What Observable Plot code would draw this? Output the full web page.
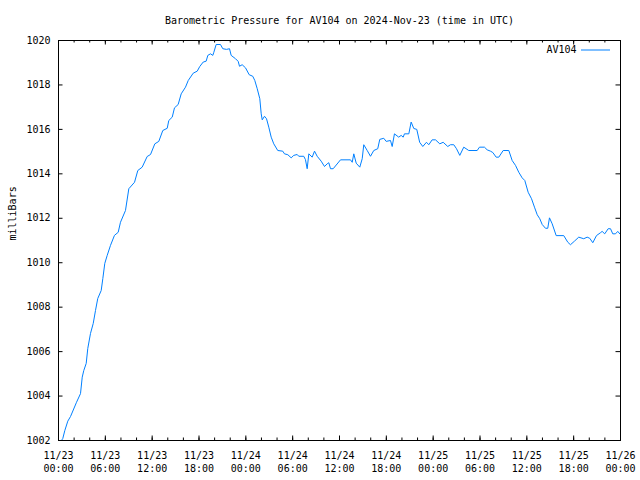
<!DOCTYPE html>
<html>
<head>
<meta charset="utf-8">
<script src="https://cdn.jsdelivr.net/npm/d3@7"></script>
<script src="https://cdn.jsdelivr.net/npm/@observablehq/plot@0.6"></script>
<style>
  html, body { margin: 0; padding: 0; background: #fff; }
</style>
</head>
<body>
<div id="chart"></div>
<script>
const title = "Barometric Pressure for AV104 on 2024-Nov-23 (time in UTC)";
const yLabel = "milliBars";
const seriesName = "AV104";

// hours since 2024-11-23 00:00 UTC
const hours = [
  0.38, 0.55, 0.81, 1.19, 1.54, 2.31, 2.82, 3.04, 3.24, 3.55,
  3.75, 4.10, 4.45, 4.74, 5.03, 5.47, 5.68, 5.93, 6.24, 6.66,
  7.17, 7.65, 7.94, 8.58, 9.01, 9.74, 10.16, 10.72, 11.36, 11.79,
  12.34, 12.85, 13.36, 13.93, 14.13, 14.57, 14.86, 15.33, 15.72, 16.27,
  16.62, 17.26, 17.77, 18.10, 18.54, 18.92, 19.13, 19.47, 19.77, 19.90,
  20.20, 20.75, 21.05, 21.52, 21.91, 22.12, 22.68, 23.02, 23.19, 23.53,
  23.96, 24.43, 24.89, 25.15, 25.46, 25.79, 25.97, 26.10, 26.39, 26.65,
  26.94, 27.25, 27.58, 28.09, 28.73, 28.95, 29.38, 29.81, 30.14, 30.58,
  30.78, 31.42, 31.64, 31.86, 32.07, 32.50, 32.80, 33.14, 33.65, 34.08,
  34.42, 34.63, 34.85, 35.19, 36.13, 37.41, 37.63, 37.83, 38.14, 38.60,
  38.91, 39.11, 39.55, 39.97, 40.39, 40.90, 41.16, 41.67, 41.98, 42.53,
  42.75, 43.04, 43.59, 43.90, 44.16, 44.32, 44.88, 45.18, 45.52, 45.90,
  46.27, 46.67, 47.14, 47.44, 47.87, 48.30, 48.85, 49.28, 49.87, 50.22,
  50.64, 50.99, 51.41, 51.92, 52.56, 53.64, 53.93, 54.57, 54.92, 55.34,
  55.64, 56.07, 56.41, 56.97, 57.69, 58.12, 58.55, 58.97, 59.40, 59.74,
  60.17, 60.60, 60.98, 61.33, 61.66, 61.97, 62.39, 62.68, 62.90, 63.25,
  63.76, 64.73, 65.25, 65.59, 66.10, 66.65, 67.29, 67.73, 68.06, 68.45,
  68.92, 69.43, 69.65, 69.98, 70.42, 70.72, 71.01, 71.36, 71.65, 71.91
];

// pressure in millibars
const pressure = [
  1002.00, 1002.09, 1002.45, 1002.87, 1003.08, 1003.72, 1004.11, 1004.85, 1005.15, 1005.47,
  1006.14, 1006.82, 1007.27, 1007.85, 1008.39, 1008.75, 1009.29, 1009.97, 1010.33, 1010.78,
  1011.23, 1011.37, 1011.82, 1012.35, 1013.33, 1013.62, 1014.15, 1014.30, 1014.78, 1014.87,
  1015.35, 1015.46, 1015.95, 1016.05, 1016.40, 1016.55, 1016.97, 1017.12, 1017.60, 1017.90,
  1018.20, 1018.53, 1018.62, 1018.83, 1019.03, 1019.07, 1019.33, 1019.40, 1019.33, 1019.47,
  1019.82, 1019.82, 1019.63, 1019.60, 1019.63, 1019.33, 1019.18, 1019.06, 1018.84, 1018.91,
  1018.77, 1018.46, 1018.39, 1018.20, 1017.83, 1017.38, 1016.70, 1016.43, 1016.59, 1016.48,
  1016.10, 1015.65, 1015.35, 1015.05, 1015.02, 1014.90, 1014.86, 1014.72, 1014.83, 1014.87,
  1014.79, 1014.79, 1014.64, 1014.23, 1014.90, 1014.75, 1015.02, 1014.79, 1014.57, 1014.33,
  1014.45, 1014.50, 1014.23, 1014.23, 1014.63, 1014.63, 1014.52, 1014.90, 1014.48, 1014.30,
  1014.68, 1015.31, 1015.05, 1014.79, 1015.05, 1015.13, 1015.55, 1015.60, 1015.46, 1015.50,
  1015.23, 1015.80, 1015.65, 1015.73, 1015.65, 1015.80, 1015.80, 1016.33, 1016.04, 1016.00,
  1015.42, 1015.23, 1015.42, 1015.31, 1015.53, 1015.53, 1015.35, 1015.42, 1015.23, 1015.31,
  1015.31, 1015.13, 1014.83, 1015.20, 1015.05, 1015.05, 1015.20, 1015.20, 1015.08, 1015.02,
  1014.96, 1014.75, 1014.75, 1015.05, 1015.05, 1014.60, 1014.38, 1014.07, 1013.82, 1013.70,
  1013.17, 1012.88, 1012.50, 1012.16, 1011.98, 1011.72, 1011.55, 1011.55, 1012.02, 1011.75,
  1011.22, 1011.22, 1010.92, 1010.81, 1010.97, 1011.15, 1011.08, 1011.15, 1011.10, 1010.90,
  1011.22, 1011.35, 1011.41, 1011.30, 1011.53, 1011.53, 1011.30, 1011.30, 1011.41, 1011.30
];

const yTicks = [1002, 1004, 1006, 1008, 1010, 1012, 1014, 1016, 1018, 1020];

const start = new Date(Date.UTC(2024, 10, 23, 0, 0));
const end = new Date(Date.UTC(2024, 10, 26, 0, 0));
const majorTicks = d3.utcHour.every(6).range(start, new Date(+end + 1));
const minorTicks = d3.utcHour.every(2).range(start, new Date(+end + 1));

const data = hours.map((h, i) => ({date: new Date(+start + h * 3600e3), p: pressure[i]}));

const W = 640, H = 480;
const mL = 58, mR = 20, mT = 40, mB = 40;
const fw = W - mL - mR, fh = H - mT - mB;
const lineColor = "#0080ff";
const fmt = d3.utcFormat("%m/%d\n%H:%M");

const chart = Plot.plot({
  width: W,
  height: H,
  marginLeft: mL,
  marginRight: mR,
  marginTop: mT,
  marginBottom: mB,
  style: {fontFamily: "'DejaVu Sans Mono', monospace", fontSize: "10px", background: "#fff", color: "#000"},
  x: {type: "utc", domain: [start, end]},
  y: {domain: [1002, 1020]},
  marks: [
    // ticks (inward)
    Plot.ruleX(minorTicks, {x: d => d, insetTop: fh - 2.5, stroke: "#000"}),
    Plot.ruleX(minorTicks, {x: d => d, insetBottom: fh - 2.5, stroke: "#000"}),
    Plot.ruleX(majorTicks, {x: d => d, insetTop: fh - 4.5, stroke: "#000"}),
    Plot.ruleX(majorTicks, {x: d => d, insetBottom: fh - 4.5, stroke: "#000"}),
    Plot.ruleY(yTicks, {y: d => d, insetRight: fw - 4.5, stroke: "#000"}),
    Plot.ruleY(yTicks, {y: d => d, insetLeft: fw - 4.5, stroke: "#000"}),
    // tick labels
    Plot.axisX(majorTicks, {anchor: "bottom", tickSize: 0, tickPadding: 9, tickFormat: fmt, fontSize: 10, lineHeight: 1.3, label: null, fill: "#000"}),
    Plot.axisY(yTicks, {anchor: "left", tickSize: 0, tickPadding: 8, tickFormat: d => String(d), fontSize: 10, label: null, fill: "#000"}),
    // data line
    Plot.line(data, {x: "date", y: "p", stroke: lineColor, strokeWidth: 1}),
    Plot.frame({stroke: "#000", strokeWidth: 1}),
    // title
    Plot.text([title], {frameAnchor: "top", dy: -20, lineAnchor: "middle", fontSize: 10, fill: "#000"}),
    // y label
    Plot.text([yLabel], {frameAnchor: "left", dx: -46, rotate: -90, lineAnchor: "middle", fontSize: 10, fill: "#000"}),
    // legend
    Plot.text([seriesName], {frameAnchor: "top-right", dx: -44, dy: 9, lineAnchor: "middle", textAnchor: "end", fontSize: 10, fill: "#000"}),
    Plot.ruleY([1020], {y: d => d, dy: 9.5, insetLeft: fw - 39, insetRight: 10, stroke: lineColor, strokeWidth: 1})
  ]
});
document.getElementById("chart").appendChild(chart);
</script>
</body>
</html>
